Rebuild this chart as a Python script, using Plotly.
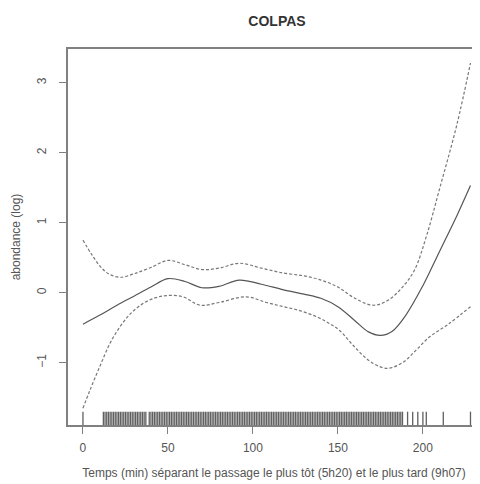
import plotly.graph_objects as go

# Smoothed fit (solid) and confidence bands (dashed)
fit_x = [0, 10, 20, 30, 40, 50, 60, 70, 80, 92, 105, 118, 130, 140, 150, 160, 168, 175, 182, 190, 200, 210, 220, 228]
fit_y = [-0.45, -0.32, -0.18, -0.05, 0.08, 0.20, 0.16, 0.07, 0.09, 0.18, 0.12, 0.04, -0.02, -0.08, -0.20, -0.40, -0.56, -0.61, -0.55, -0.32, 0.10, 0.60, 1.10, 1.53]

upper_x = [0, 5, 10, 15, 22, 30, 40, 50, 60, 70, 80, 92, 105, 118, 130, 140, 150, 160, 171, 180, 188, 195, 202, 210, 220, 228]
upper_y = [0.75, 0.55, 0.38, 0.27, 0.22, 0.27, 0.36, 0.46, 0.40, 0.33, 0.35, 0.42, 0.35, 0.28, 0.24, 0.18, 0.08, -0.08, -0.18, -0.10, 0.08, 0.32, 0.80, 1.50, 2.40, 3.28]

lower_x = [0, 4, 10, 16, 22, 28, 35, 43, 50, 59, 69, 80, 96, 108, 118, 128, 138, 145, 151, 160, 170, 179, 188, 196, 204, 215, 228]
lower_y = [-1.65, -1.40, -1.05, -0.72, -0.48, -0.30, -0.16, -0.07, -0.04, -0.06, -0.18, -0.14, -0.06, -0.14, -0.20, -0.26, -0.35, -0.44, -0.54, -0.78, -1.00, -1.08, -1.00, -0.82, -0.63, -0.45, -0.20]

# Observation times (rug)
rug_times = [0, 12, 13, 14, 15, 16, 17, 18, 19, 20, 21, 22, 23, 24, 25, 26, 27, 28, 29, 30, 31, 32,
             33, 34, 35, 36, 37, 39, 40, 41, 42, 43, 44, 45, 46, 47, 48, 49, 50, 51, 52, 53, 54,
             55, 56, 57, 58, 59, 60, 61, 62, 63, 64, 65, 66, 67, 68, 69, 70, 71, 72, 73, 74, 75,
             76, 77, 78, 79, 80, 81, 82, 83, 84, 85, 86, 87, 88, 89, 90, 91, 92, 93, 94, 95, 96,
             97, 98, 99, 100, 101, 102, 103, 104, 105, 106, 107, 108, 109, 110, 111, 112, 113,
             114, 115, 116, 117, 118, 119, 120, 121, 122, 123, 124, 125, 126, 127, 128, 129, 130,
             131, 132, 133, 134, 135, 136, 137, 138, 139, 140, 141, 142, 143, 144, 145, 146, 147,
             148, 149, 150, 151, 152, 153, 154, 155, 156, 157, 158, 159, 160, 161, 162, 163, 164,
             165, 166, 167, 168, 169, 170, 171, 172, 173, 174, 175, 176, 177, 178, 179, 180, 181,
             182, 183, 184, 185, 186, 187, 188, 191, 194, 197, 200, 202, 212, 228]

x_ticks = [0, 50, 100, 150, 200]
y_ticks = [-1, 0, 1, 2, 3]
x_range = [-8.8, 233.6]
y_range = [-1.89, 3.48]
rug_len = 0.19

line_col = "#555555"
axis_col = "#808080"
font_fam = "Liberation Sans, Arial, sans-serif"

rx, ry = [], []
for t in rug_times:
    rx += [t, t, None]
    ry += [y_range[0], y_range[0] + rug_len, None]

fig = go.Figure()
fig.add_trace(go.Scatter(x=rx, y=ry, mode="lines", line=dict(color="#606060", width=1.3),
                         hoverinfo="skip", showlegend=False))
fig.add_trace(go.Scatter(x=upper_x, y=upper_y, mode="lines", line=dict(color="#777777", width=1.2, dash="3px,2px", shape="spline"),
                         showlegend=False))
fig.add_trace(go.Scatter(x=lower_x, y=lower_y, mode="lines", line=dict(color="#777777", width=1.2, dash="3px,2px", shape="spline"),
                         showlegend=False))
fig.add_trace(go.Scatter(x=fit_x, y=fit_y, mode="lines", line=dict(color=line_col, width=1.2, shape="spline"),
                         showlegend=False))

# page body has an 8px margin: figure is 472x476 so it ends at the window edge
W, H = 472, 476
fig.update_layout(
    width=W, height=H,
    margin=dict(l=60, r=0, t=41, b=59),
    paper_bgcolor="white", plot_bgcolor="white",
    font=dict(family=font_fam, size=12, color="#555555"),
    title=dict(text="<b>COLPAS</b>", x=(277 - 8) / W, xanchor="center", y=1 - (21 - 8) / H, yanchor="middle",
               font=dict(size=14, color="#333333")),
)
fig.update_xaxes(range=x_range, tickvals=x_ticks, ticks="outside", ticklen=7, tickcolor=axis_col,
                 showline=True, linecolor=axis_col, linewidth=1.5, mirror=True,
                 showgrid=False, zeroline=False, ticklabelstandoff=4,
                 title=dict(text="Temps (min) séparant le passage le plus tôt (5h20) et le plus tard (9h07)",
                            standoff=14, font=dict(size=12)))
fig.update_yaxes(range=y_range, tickvals=y_ticks, ticks="outside", ticklen=7, tickcolor=axis_col,
                 showline=True, linecolor=axis_col, linewidth=1.5, mirror=False,
                 showgrid=False, zeroline=False, tickangle=-90, ticklabelstandoff=8,
                 title=dict(text="abondance (log)", standoff=12, font=dict(size=12)))

fig.write_html("out.html")
